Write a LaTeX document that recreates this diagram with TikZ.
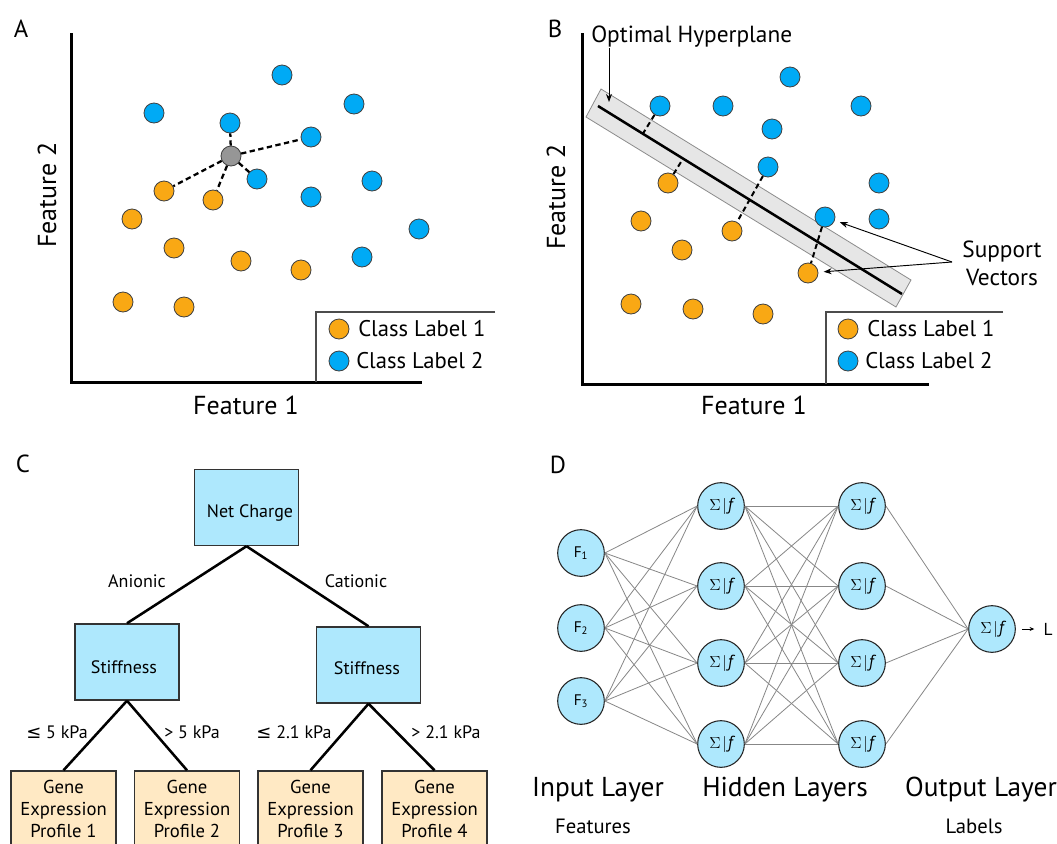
\documentclass[tikz,border=0pt]{standalone}
\usepackage{fontspec}
\setmainfont{PT Sans}
\newfontfamily\symfont{DejaVu Sans}
\usetikzlibrary{arrows.meta,calc}

\definecolor{dotorange}{RGB}{249,168,20}
\definecolor{dotblue}{RGB}{0,170,245}
\definecolor{dotgray}{RGB}{150,150,150}
\definecolor{boxblue}{RGB}{174,232,253}
\definecolor{leafbeige}{RGB}{255,233,196}
\definecolor{bandgray}{RGB}{230,230,230}
\definecolor{wiregray}{RGB}{135,135,135}

\newcommand{\sz}[2]{\fontsize{#1}{#2}\selectfont}

\tikzset{
  samplept/.style={circle, minimum size=15pt, inner sep=0pt, draw=black!75, line width=0.6pt},
  orangept/.style={samplept, fill=dotorange},
  bluept/.style={samplept, fill=dotblue},
  graypt/.style={samplept, fill=dotgray},
  axisline/.style={line width=2.25pt, line join=miter},
  legendframe/.style={draw=black!70, line width=0.8pt},
  legendtext/.style={font=\sz{17}{20}, inner sep=0pt, anchor=west},
  axistext/.style={font=\sz{19.5}{23}, inner sep=0pt},
  paneltag/.style={font=\sz{18.5}{21}, inner sep=0pt},
  neighbour/.style={dash pattern=on 4pt off 2.6pt, line width=1.7pt},
  margin/.style={dash pattern=on 4pt off 2.6pt, line width=1.5pt},
  pointer/.style={-{Stealth[length=6pt,width=4.5pt]}, line width=0.7pt},
  callout/.style={font=\sz{17.5}{21}, inner sep=0pt, align=center},
  decision/.style={rectangle, draw=black!80, line width=1.1pt, fill=boxblue,
    minimum width=78pt, minimum height=57pt, inner sep=0pt},
  boxtext/.style={font=\sz{13.5}{16}, inner sep=0pt},
  leaf/.style={rectangle, draw=black!80, line width=1.1pt, fill=leafbeige,
    minimum width=78.75pt, minimum height=57pt, inner sep=0pt, align=center,
    font=\sz{14}{16.5}},
  branch/.style={line width=1.9pt},
  branchtext/.style={font=\sz{13.5}{16}, inner sep=0pt},
  neuron/.style={circle, draw=black!85, line width=0.8pt, fill=boxblue,
    minimum size=35pt, inner sep=0pt, font=\sz{13}{15}},
  inputneuron/.style={neuron, font=\sz{11.5}{13}},
  wire/.style={draw=wiregray, line width=0.6pt},
  layertext/.style={font=\sz{20.5}{24}, inner sep=0pt},
  layersub/.style={font=\sz{15.5}{18}, inner sep=0pt},
}

\newcommand{\sigf}{$\Sigma\hspace{1.3pt}|\hspace{0.8pt}\mathit{f}$}

\begin{document}
\begin{tikzpicture}[x=0.75pt, y=-0.75pt]
\clip (0,0) rectangle (1057,843);
\fill[white] (0,0) rectangle (1057,843);

% ---------------- Panel A: nearest neighbours ----------------
\node[paneltag] (tagA) at (21,29) {A};
\coordinate (Atop) at (71,33);
\coordinate (Aorig) at (71,382);
\coordinate (Aend) at (422,382);
\draw[axisline] (Atop) -- (Aorig) -- (Aend);
\node[axistext] (Axlab) at (246,405) {Feature 1};
\node[axistext, rotate=90] (Aylab) at (47,195) {Feature 2};

\coordinate (AlegR) at (495,312);
\coordinate (AlegC) at (316,312);
\coordinate (AlegB) at (316,382);
\draw[legendframe] (AlegR) -- (AlegC) -- (AlegB);
\node[orangept] (AlegO) at (339,329) {};
\node[bluept] (AlegBl) at (339,361) {};
\node[legendtext] (AlegOt) at (358,329) {Class Label 1};
\node[legendtext] (AlegBt) at (356,361) {Class Label 2};

\node[bluept] (a1) at (282,75) {};
\node[bluept] (a2) at (154,113) {};
\node[bluept] (a3) at (354,104) {};
\node[bluept] (a4) at (230,123) {};
\node[bluept] (a5) at (311,137) {};
\node[bluept] (a6) at (257,179) {};
\node[bluept] (a7) at (372,181) {};
\node[bluept] (a8) at (311,197) {};
\node[bluept] (a9) at (419,229) {};
\node[bluept] (a10) at (362,257) {};
\node[orangept] (c1) at (164,191) {};
\node[orangept] (c2) at (213,200) {};
\node[orangept] (c3) at (132,219) {};
\node[orangept] (c4) at (174,248) {};
\node[orangept] (c5) at (241,261) {};
\node[orangept] (c6) at (301,270) {};
\node[orangept] (c7) at (123,302) {};
\node[orangept] (c8) at (184,307) {};
\node[graypt] (query) at (231,156) {};
\foreach \n in {a4,a5,a6,c1,c2}
  \draw[neighbour] (query) -- (\n);

% ---------------- Panel B: support vector machine ----------------
\node[paneltag] (tagB) at (555,29) {B};
\coordinate (Btop) at (582,33);
\coordinate (Borig) at (582,384);
\coordinate (Bend) at (929,384);
\draw[axisline] (Btop) -- (Borig) -- (Bend);
\node[axistext] (Bxlab) at (754,405) {Feature 1};
\node[axistext, rotate=90] (Bylab) at (556,197) {Feature 2};

\coordinate (BlegR) at (1003,312);
\coordinate (BlegC) at (826,312);
\coordinate (BlegB) at (826,384);
\draw[legendframe] (BlegR) -- (BlegC) -- (BlegB);
\node[orangept] (BlegO) at (848,329) {};
\node[bluept] (BlegBl) at (848,361) {};
\node[legendtext] (BlegOt) at (867,329) {Class Label 1};
\node[legendtext] (BlegBt) at (865,361) {Class Label 2};

% margin band and separating line
\coordinate (band1) at (586,117);
\coordinate (band2) at (601,89);
\coordinate (band3) at (911,280);
\coordinate (band4) at (896,307);
\draw[fill=bandgray, draw=black!45, line width=0.6pt]
  (band1) -- (band2) -- (band3) -- (band4) -- cycle;
\coordinate (hpA) at (598,106);
\coordinate (hpB) at (902,294);
\draw[line width=1.9pt] (hpA) -- (hpB);

\node[bluept] (b1) at (790,77) {};
\node[bluept] (b2) at (660,106) {};
\node[bluept] (b3) at (723,106) {};
\node[bluept] (b4) at (861,106) {};
\node[bluept] (b5) at (772,129) {};
\node[bluept] (b6) at (768,167) {};
\node[bluept] (b7) at (879,183) {};
\node[bluept] (b8) at (825,217) {};
\node[bluept] (b9) at (879,219) {};
\node[orangept] (d1) at (668,183) {};
\node[orangept] (d2) at (641,221) {};
\node[orangept] (d3) at (732,231) {};
\node[orangept] (d4) at (682,250) {};
\node[orangept] (d5) at (808,273) {};
\node[orangept] (d6) at (631,304) {};
\node[orangept] (d7) at (693,309) {};
\node[orangept] (d8) at (763,314) {};

\draw[margin] (b2) -- ($(hpA)!(b2)!(hpB)$);
\draw[margin] (d1) -- ($(hpA)!(d1)!(hpB)$);
\draw[margin] (b6) -- (d3);
\draw[margin] (b8) -- (d5);

\node[callout, anchor=west] (optlab) at (591,37) {Optimal Hyperplane};
\coordinate (optTip) at (609,102);
\draw[pointer] (optlab.south west -| optTip) -- (optTip);

\node[callout] (svlab) at (1002,263) {Support\\Vectors};
\coordinate (svSrc) at (952,262);
\draw[pointer, shorten >=4pt] (svSrc) -- (b8);
\draw[pointer, shorten >=4pt] (svSrc) -- (d5);

% ---------------- Panel C: decision tree ----------------
\node[paneltag] (tagC) at (23,464) {C};
\node[decision] (root) at (246.5,507.5) {};
\node[decision] (stL) at (127,662) {};
\node[decision] (stR) at (368.5,665) {};
\node[boxtext] (rootText) at (250,513) {Net Charge};
\node[boxtext] (stLText) at (124,667) {Stiffness};
\node[boxtext] (stRText) at (367,668) {Stiffness};
\node[leaf] (g1) at (63.5,809) {Gene\\Expression\\Profile 1};
\node[leaf] (g2) at (187,809) {Gene\\Expression\\Profile 2};
\node[leaf] (g3) at (310.5,809) {Gene\\Expression\\Profile 3};
\node[leaf] (g4) at (434.5,809) {Gene\\Expression\\Profile 4};

\draw[branch] (root.south) -- (stL.north);
\draw[branch] (root.south) -- (stR.north);
\draw[branch] (stL.south) -- (g1.north);
\draw[branch] (stL.south) -- (g2.north);
\draw[branch] (stR.south) -- (g3.north);
\draw[branch] (stR.south) -- (g4.north);

\node[branchtext] (tAn) at (137,581) {Anionic};
\node[branchtext] (tCa) at (356,581) {Cationic};
\node[branchtext] (tL5) at (57,732) {{\symfont ≤} 5 kPa};
\node[branchtext] (tG5) at (192,732) {> 5 kPa};
\node[branchtext] (tL21) at (294,732) {{\symfont ≤} 2.1 kPa};
\node[branchtext] (tG21) at (446,732) {> 2.1 kPa};

% ---------------- Panel D: neural network ----------------
\node[paneltag] (tagD) at (558,465) {D};
\node[inputneuron] (in1) at (581,553) {F\textsubscript{1}};
\node[inputneuron] (in2) at (581,628) {F\textsubscript{2}};
\node[inputneuron] (in3) at (581,701) {F\textsubscript{3}};
\foreach \i/\y in {1/506,2/586,3/663,4/744} {
  \node[neuron] (hA\i) at (721,\y) {\sigf};
  \node[neuron] (hB\i) at (862,\y) {\sigf};
}
\node[neuron] (outn) at (992,629) {\sigf};

\foreach \i in {1,2,3}
  \foreach \j in {1,2,3,4}
    \draw[wire] (in\i.east) -- (hA\j.west);
\foreach \i in {1,2,3,4}
  \foreach \j in {1,2,3,4}
    \draw[wire] (hA\i.east) -- (hB\j.west);
\foreach \i in {1,2,3,4}
  \draw[wire] (hB\i.east) -- (outn.west);

\node[font=\sz{13}{15}, inner sep=0pt] (lab) at (1048,629) {L};
\draw[-{Stealth[length=3.5pt,width=3pt]}, line width=0.7pt]
  ($(outn.east)+(6,0)$) -- ($(lab.west)+(-9,0)$);

\node[layertext] (tIn) at (598,790) {Input Layer};
\node[layertext] (tHid) at (785,790) {Hidden Layers};
\node[layertext] (tOut) at (981,790) {Output Layer};
\node[layersub] (tFeat) at (593,826) {Features};
\node[layersub] (tLab) at (974,826) {Labels};
\end{tikzpicture}
\end{document}
